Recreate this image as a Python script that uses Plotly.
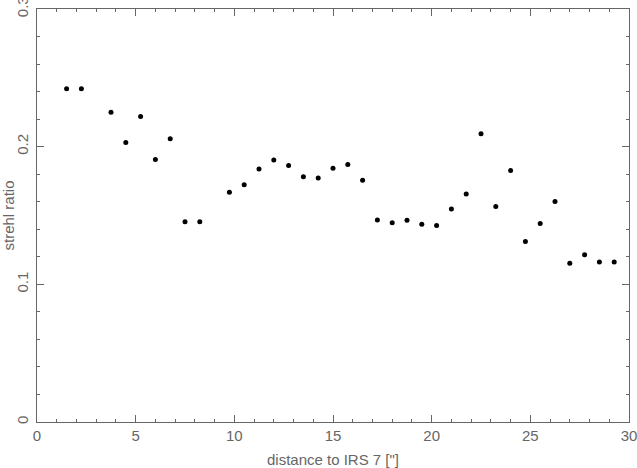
import plotly.graph_objects as go

distance = [1.5, 2.25, 3.75, 4.5, 5.25, 6.0, 6.75, 7.5, 8.25, 9.75, 10.5, 11.25,
            12.0, 12.75, 13.5, 14.25, 15.0, 15.75, 16.5, 17.25, 18.0, 18.75, 19.5,
            20.25, 21.0, 21.75, 22.5, 23.25, 24.0, 24.75, 25.5, 26.25, 27.0, 27.75,
            28.5, 29.25]
strehl = [0.242, 0.242, 0.225, 0.203, 0.222, 0.1906, 0.2058, 0.1454, 0.1454, 0.1668,
          0.1724, 0.1838, 0.1904, 0.1864, 0.1782, 0.1773, 0.1843, 0.1870, 0.1756,
          0.1468, 0.1448, 0.1465, 0.1436, 0.1427, 0.1548, 0.1657, 0.2093, 0.1565,
          0.1826, 0.1311, 0.1441, 0.1601, 0.1153, 0.1214, 0.1163, 0.1163]

x_ticks = [0, 5, 10, 15, 20, 25, 30]
y_ticks = [0, 0.1, 0.2, 0.3]
y_tick_labels = ["0", "0.1", "0.2", "0.3"]

font = dict(family="Liberation Sans, Arial, sans-serif", size=15, color="#666")

fig = go.Figure(go.Scatter(
    x=distance, y=strehl, mode="markers",
    marker=dict(color="black", size=5, line=dict(width=0)),
    hoverinfo="x+y",
))

axis_common = dict(
    showgrid=False, zeroline=False, showline=True, linecolor="#666", linewidth=1,
    mirror="ticks", ticks="inside", ticklen=7, tickcolor="#666", tickwidth=1,
    tickfont=font, automargin=False, ticklabeloverflow="allow",
)

fig.update_layout(
    width=637, height=468,
    margin=dict(l=37, r=8, t=9, b=46),
    paper_bgcolor="white", plot_bgcolor="white",
    showlegend=False,
    font=font,
    xaxis=dict(
        range=[0, 30], tickvals=x_ticks,
        minor=dict(dtick=1, ticks="inside", ticklen=3, tickcolor="#666", tickwidth=1),
        title=dict(text='distance to IRS 7 ["]', font=font, standoff=11),
        ticklabelstandoff=0,
        **axis_common,
    ),
    yaxis=dict(
        range=[0, 0.3], tickvals=y_ticks, ticktext=y_tick_labels, tickangle=-90,
        minor=dict(dtick=0.02, ticks="inside", ticklen=3, tickcolor="#666", tickwidth=1),
        title=dict(text="strehl ratio", font=font, standoff=2),
        ticklabelstandoff=2,
        **axis_common,
    ),
)

fig.write_html("out.html", config={"displayModeBar": False},
               post_script="document.body.style.margin='0';")
